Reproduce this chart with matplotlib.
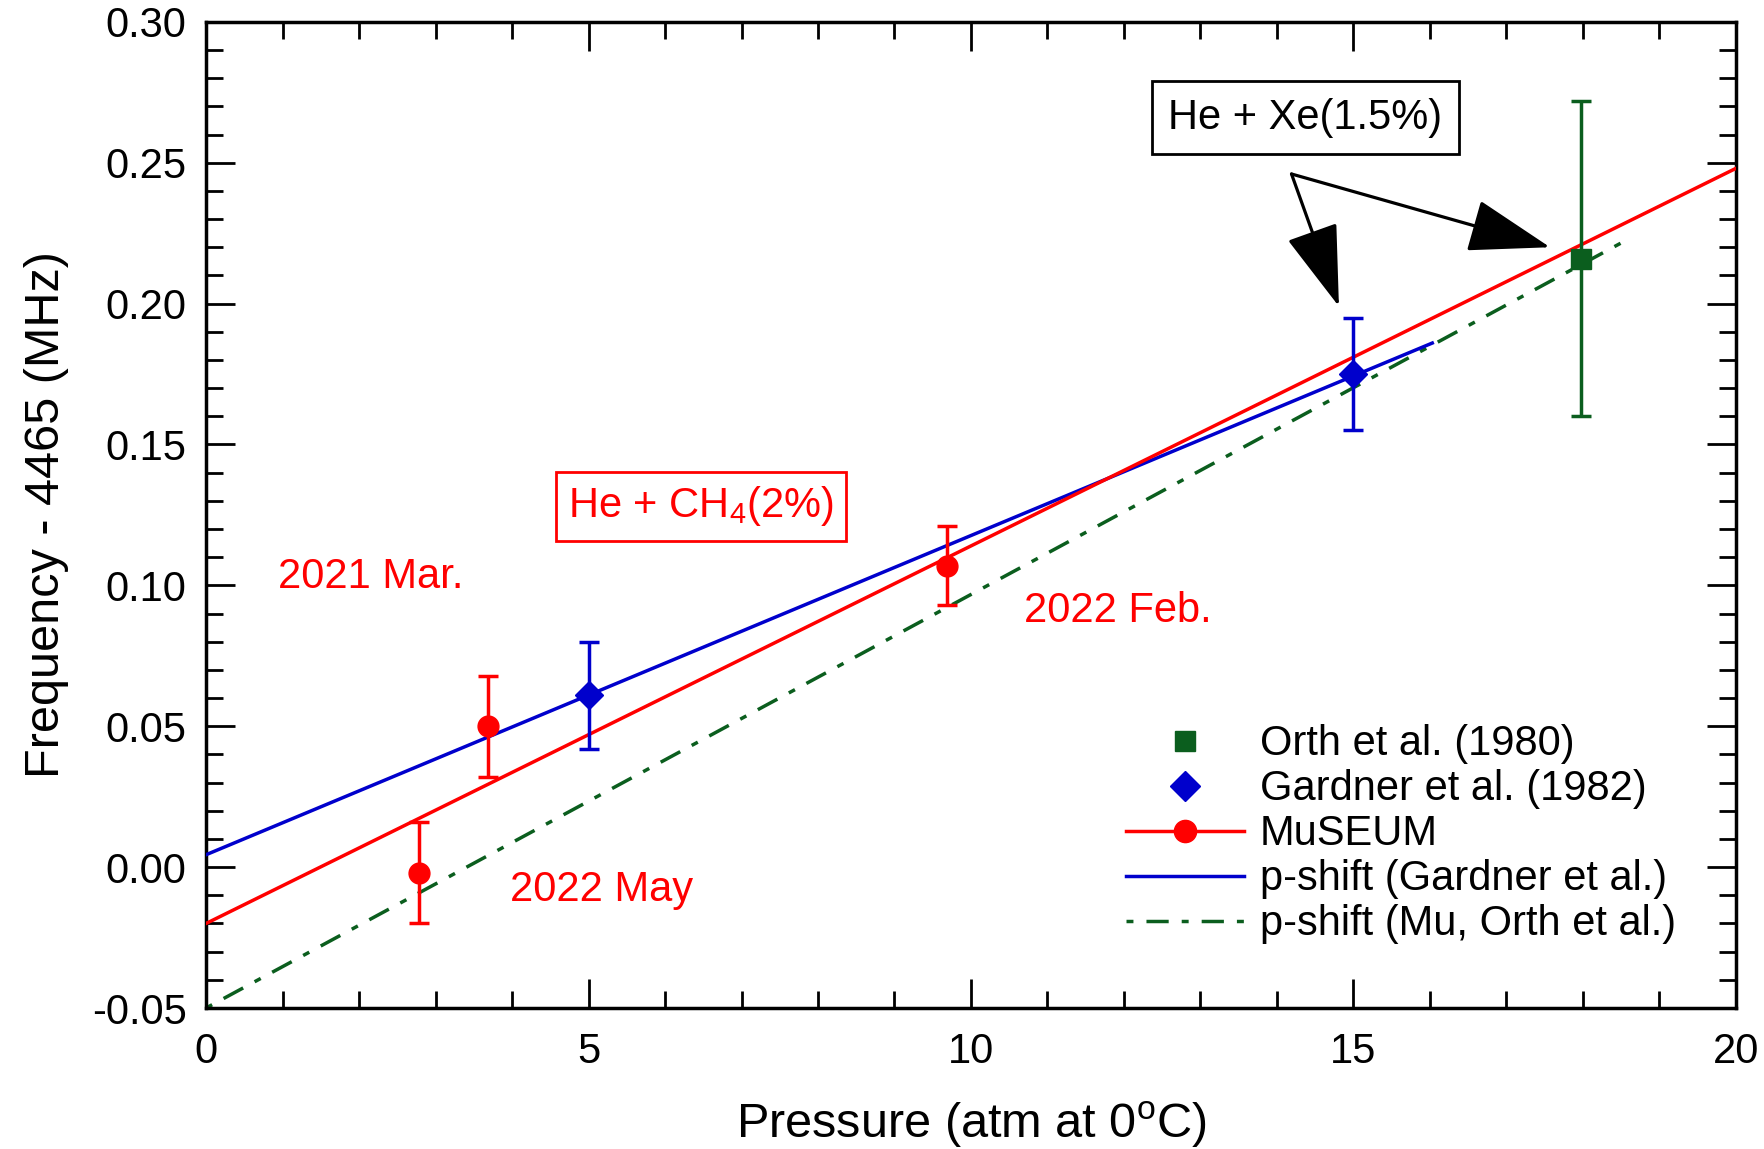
import numpy as np
import matplotlib
matplotlib.use('Agg')
import matplotlib.pyplot as plt
from matplotlib.ticker import MultipleLocator, FormatStrFormatter

plt.rcParams['font.family'] = ['Liberation Sans', 'DejaVu Sans']
plt.rcParams['mathtext.fontset'] = 'custom'
plt.rcParams['mathtext.rm'] = 'Liberation Sans'
plt.rcParams['mathtext.it'] = 'Liberation Sans:italic'

# data
museum_p = [2.78, 3.69, 9.68]
museum_f = [-0.002, 0.050, 0.107]
museum_err = [0.018, 0.018, 0.014]

gardner_p = [5.0, 15.0]
gardner_f = [0.061, 0.175]
gardner_err = [0.019, 0.020]

orth_p = [17.97]
orth_f = [0.216]
orth_err = [0.056]

# fitted pressure-shift lines (end points)
fit_museum_p = [0.0, 20.0]
fit_museum_f = [-0.020, 0.248]
fit_gardner_p = [0.0, 16.03]
fit_gardner_f = [0.0044, 0.186]
fit_orth_p = [0.0, 18.6]
fit_orth_f = [-0.050, 0.223]

red = '#ff0000'
blue = '#0000cc'
green = '#0b5e1e'
lw = 2.5
dd = [2.0, 3.75, 6.4, 3.75]

fig = plt.figure(figsize=(17.64, 11.49), dpi=100)
ax = fig.add_axes([0.1168, 0.1227, 0.8673, 0.8583])

ax.plot(fit_orth_p, fit_orth_f, color=green, lw=lw, dashes=dd, zorder=2)
ax.plot(fit_gardner_p, fit_gardner_f, color=blue, lw=lw, zorder=3)
ax.plot(fit_museum_p, fit_museum_f, color=red, lw=lw, zorder=3)

ax.errorbar(orth_p, orth_f, yerr=orth_err, fmt='s', color=green, ms=14, capsize=7,
            elinewidth=lw, capthick=lw, zorder=4)
ax.errorbar(gardner_p, gardner_f, yerr=gardner_err, fmt='D', color=blue, ms=14, capsize=7,
            elinewidth=lw, capthick=lw, zorder=4)
ax.errorbar(museum_p, museum_f, yerr=museum_err, fmt='o', color=red, ms=15, capsize=7,
            elinewidth=lw, capthick=lw, zorder=4)

# legend proxies in the reference order
h_orth, = ax.plot([], [], 's', color=green, ms=15)
h_gard, = ax.plot([], [], 'D', color=blue, ms=15)
h_mus, = ax.plot([], [], '-o', color=red, ms=16, lw=lw)
h_gline, = ax.plot([], [], '-', color=blue, lw=lw)
h_oline, = ax.plot([], [], color=green, lw=lw, dashes=dd)
ax.legend([h_orth, h_gard, h_mus, h_gline, h_oline],
          ['Orth et al. (1980)', 'Gardner et al. (1982)', 'MuSEUM',
           'p-shift (Gardner et al.)', 'p-shift (Mu, Orth et al.)'],
          loc='lower right', bbox_to_anchor=(0.98, 0.035), frameon=False, fontsize=30,
          handlelength=2.83, labelspacing=0.12, handletextpad=0.38, borderpad=0.2)

ax.text(0.94, 0.103, '2021 Mar.', color=red, fontsize=30, va='center', ha='left')
ax.text(10.69, 0.091, '2022 Feb.', color=red, fontsize=30, va='center', ha='left')
ax.text(3.97, -0.008, '2022 May', color=red, fontsize=30, va='center', ha='left')
ax.text(6.47, 0.128, 'He + CH$_4$(2%)', color=red, fontsize=30, va='center', ha='center',
        bbox=dict(boxstyle='square,pad=0.3', fc='white', ec=red, lw=2))
ax.text(14.37, 0.266, 'He + Xe(1.5%)', color='black', fontsize=30, va='center', ha='center',
        bbox=dict(boxstyle='square,pad=0.4', fc='white', ec='black', lw=2))

arrow_kw = dict(arrowstyle='-|>,head_length=1.3,head_width=0.42', color='black', lw=2.3,
                mutation_scale=40, shrinkA=0, shrinkB=0)
ax.annotate('', xy=(14.81, 0.199), xytext=(14.19, 0.246), arrowprops=arrow_kw)
ax.annotate('', xy=(17.57, 0.220), xytext=(14.19, 0.246), arrowprops=arrow_kw)

ax.set_xlim(0, 20)
ax.set_ylim(-0.05, 0.30)
ax.xaxis.set_major_locator(MultipleLocator(5))
ax.xaxis.set_minor_locator(MultipleLocator(1))
ax.yaxis.set_major_locator(MultipleLocator(0.05))
ax.yaxis.set_minor_locator(MultipleLocator(0.01))
ax.yaxis.set_major_formatter(FormatStrFormatter('%.2f'))

ax.tick_params(which='both', direction='in', top=True, right=True, width=2, labelsize=30)
ax.tick_params(which='major', length=21)
ax.tick_params(which='minor', length=12)
ax.tick_params(axis='x', which='major', pad=17)
ax.tick_params(axis='y', which='major', pad=14)
for s in ax.spines.values():
    s.set_linewidth(2.5)

ax.set_xlabel(r'Pressure (atm at 0$^{\mathrm{o}}$C)', fontsize=35, labelpad=20)
ax.set_ylabel('Frequency - 4465 (MHz)', fontsize=35, labelpad=16)

fig.savefig('out.png', dpi=100)
